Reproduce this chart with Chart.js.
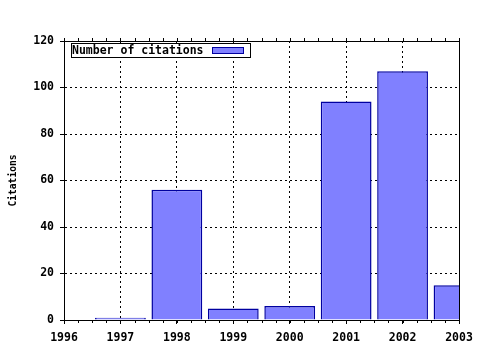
<!DOCTYPE html>
<html><head><meta charset="utf-8">
<script src="https://cdn.jsdelivr.net/npm/chart.js@4/dist/chart.umd.min.js"></script>
<style>html,body{margin:0;padding:0;background:#fff}#wrap{width:480px;height:350px}</style>
</head><body><div id="wrap"><canvas id="c" width="480" height="350"></canvas></div>
<script>
const years = [1997, 1998, 1999, 2000, 2001, 2002, 2003];
const citations = [1, 56, 5, 6, 94, 107, 15];
const seriesLabel = "Number of citations";
const yTitle = "Citations";
const xMin = 1996, xMax = 2003;
const yMin = 0, yMax = 120, yStep = 20;

const FONT = "'DejaVu Sans Mono', monospace";
const FILL = '#8080ff', EDGE = '#0000a0';

const framePlugin = {
  id: 'frame',
  afterDraw(chart) {
    const {ctx, chartArea: a, scales: {x}} = chart;
    ctx.save();
    ctx.strokeStyle = '#000';
    ctx.lineWidth = 1;
    ctx.setLineDash([]);
    ctx.beginPath();
    ctx.moveTo(Math.round(a.left) + 0.5, Math.round(a.top) + 0.5);
    ctx.lineTo(Math.round(a.right) + 0.5, Math.round(a.top) + 0.5);
    ctx.lineTo(Math.round(a.right) + 0.5, Math.round(a.bottom) + 0.5);
    for (let v = xMin; v <= xMax + 1e-9; v += 0.25) {
      const px = Math.round(x.getPixelForValue(v)) + 0.5;
      ctx.moveTo(px, Math.round(a.bottom));
      ctx.lineTo(px, Math.round(a.bottom) + 3);
      ctx.moveTo(px, Math.round(a.top));
      ctx.lineTo(px, Math.round(a.top) - 3);
    }
    ctx.stroke();
    const lx = 71, ly = 43, lw = 179, lh = 14;
    ctx.fillStyle = '#fff';
    ctx.fillRect(lx, ly, lw, lh);
    ctx.strokeRect(lx + 0.5, ly + 0.5, lw, lh);
    ctx.font = "bold 11.5px " + FONT;
    ctx.fillStyle = '#000';
    ctx.textBaseline = 'middle';
    ctx.textAlign = 'left';
    ctx.fillText(chart.data.datasets[0].label, lx + 1, ly + lh / 2 + 1);
    ctx.fillStyle = FILL;
    ctx.fillRect(212, 48, 31, 6);
    ctx.strokeStyle = EDGE;
    ctx.strokeRect(212.5, 47.5, 31, 6);
    ctx.restore();
  }
};

new Chart(document.getElementById('c'), {
  type: 'bar',
  data: {
    datasets: [{
      label: seriesLabel,
      data: years.map((y, i) => ({x: y, y: citations[i]})),
      backgroundColor: FILL,
      borderColor: EDGE,
      borderWidth: 1.5,
      categoryPercentage: 1,
      barPercentage: 0.9
    }]
  },
  options: {
    responsive: false,
    animation: false,
    layout: {padding: {top: 41, right: 21, left: 0, bottom: 0}},
    plugins: {legend: {display: false}, tooltip: {enabled: false}},
    scales: {
      x: {
        type: 'linear', min: xMin, max: xMax, offset: false,
        afterFit(s) { s.height = 30; },
        ticks: {stepSize: 1, color: '#000', font: {family: FONT, size: 11.5, weight: 'bold'}, padding: 7,
          callback: v => String(v), maxRotation: 0, autoSkip: false},
        grid: {offset: false, color: '#000', lineWidth: 1, tickLength: 4, tickColor: '#000', tickBorderDash: []},
        border: {display: true, color: '#000', width: 1, dash: [2, 3]}
      },
      y: {
        min: yMin, max: yMax,
        afterFit(s) { s.width = 64; },
        ticks: {stepSize: yStep, color: '#000', font: {family: FONT, size: 11.5, weight: 'bold'}, padding: 6},
        grid: {color: '#000', lineWidth: 1, tickLength: 4, tickColor: '#000', tickBorderDash: []},
        border: {display: true, color: '#000', width: 1, dash: [2, 3]},
        title: {display: true, text: yTitle, color: '#000', font: {family: FONT, size: 9.6, weight: 'bold'}, padding: {top: 7.5, bottom: 0}}
      }
    }
  },
  plugins: [framePlugin]
});
</script>
</body></html>
